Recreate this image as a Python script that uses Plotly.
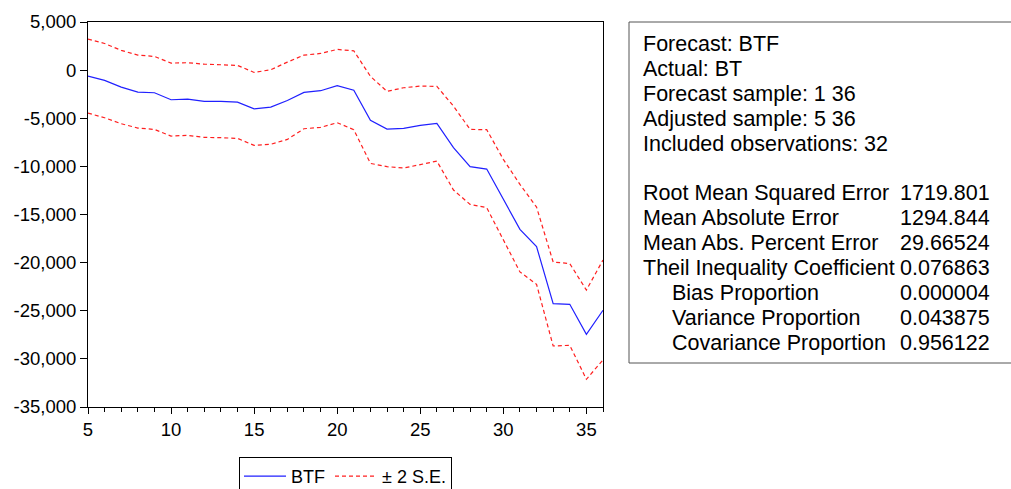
import plotly.graph_objects as go

# ---- data ----
periods = list(range(5, 37))
btf = [-620, -1070, -1760, -2280, -2350, -3080, -3010, -3250, -3250, -3320,
       -4030, -3840, -3150, -2320, -2140, -1620, -2080, -5220, -6120, -6050,
       -5740, -5530, -8060, -10030, -10280, -13430, -16540, -18330, -24260,
       -24330, -27450, -24950]
upper = [3220, 2770, 2050, 1560, 1420, 730, 770, 620, 560, 490,
         -240, 40, 830, 1560, 1730, 2150, 2010, -650, -2210, -1830,
         -1660, -1690, -3740, -6160, -6190, -9270, -11870, -14230, -19940,
         -20100, -22850, -19730]
lower = [-4460, -4950, -5570, -6020, -6160, -6850, -6780, -6990, -7020, -7090,
         -7820, -7710, -7200, -6090, -5950, -5460, -6190, -9690, -10030, -10170,
         -9820, -9450, -12460, -13950, -14290, -17650, -20970, -22250, -28660,
         -28590, -32120, -30110]

y_tickvals = [5000, 0, -5000, -10000, -15000, -20000, -25000, -30000, -35000]
y_ticktext = ["5,000", "0", "-5,000", "-10,000", "-15,000", "-20,000",
              "-25,000", "-30,000", "-35,000"]
x_tickvals = [5, 10, 15, 20, 25, 30, 35]

stat_labels = ["Forecast: BTF", "Actual: BT", "Forecast sample: 1 36",
               "Adjusted sample: 5 36", "Included observations: 32"]
metric_labels = ["Root Mean Squared Error", "Mean Absolute Error",
                 "Mean Abs. Percent Error", "Theil Inequality Coefficient",
                 "Bias Proportion", "Variance Proportion", "Covariance Proportion"]
metric_values = ["1719.801", "1294.844", "29.66524", "0.076863",
                 "0.000004", "0.043875", "0.956122"]
metric_indent = [False, False, False, False, True, True, True]

# ---- layout geometry (pixels) ----
W, H = 1011, 489
L, R, T, B = 88, 603, 22, 407
pw, ph = R - L, B - T


def px_x(x):
    return (x - L) / pw


def px_y(y):
    return (B - y) / ph


FONT = "Liberation Sans, Arial, sans-serif"
BOX_FS = 21.5

fig = go.Figure()
fig.add_trace(go.Scatter(x=periods, y=btf, mode="lines", name="BTF",
                         line=dict(color="#2020ff", width=1.2)))
fig.add_trace(go.Scatter(x=periods, y=upper, mode="lines", name="± 2 S.E.",
                         line=dict(color="#ff2020", width=1.2, dash="4px,3px"),
                         legendgroup="se"))
fig.add_trace(go.Scatter(x=periods, y=lower, mode="lines", name="± 2 S.E.",
                         line=dict(color="#ff2020", width=1.2, dash="4px,3px"),
                         legendgroup="se", showlegend=False))

annotations = []
y0 = 44.0
step = 25.1
for i, t in enumerate(stat_labels):
    annotations.append(dict(text=t, x=px_x(641), y=px_y(y0 + i * step),
                            xref="paper", yref="paper", xanchor="left",
                            yanchor="middle", showarrow=False,
                            font=dict(family=FONT, size=BOX_FS, color="black")))
y1 = 192.5
for i, (t, v, ind) in enumerate(zip(metric_labels, metric_values, metric_indent)):
    annotations.append(dict(text=t, x=px_x(670 if ind else 641),
                            y=px_y(y1 + i * step),
                            xref="paper", yref="paper", xanchor="left",
                            yanchor="middle", showarrow=False,
                            font=dict(family=FONT, size=BOX_FS, color="black")))
    annotations.append(dict(text=v, x=px_x(898), y=px_y(y1 + i * step),
                            xref="paper", yref="paper", xanchor="left",
                            yanchor="middle", showarrow=False,
                            font=dict(family=FONT, size=BOX_FS, color="black")))

shapes = [
    dict(type="rect", xref="paper", yref="paper",
         x0=px_x(629), x1=px_x(1030), y0=px_y(363), y1=px_y(22),
         line=dict(color="#555555", width=1), fillcolor="rgba(0,0,0,0)"),
]

fig.update_layout(
    width=W, height=H,
    margin=dict(l=L, r=W - R, t=T, b=H - B, autoexpand=False),
    paper_bgcolor="white", plot_bgcolor="white",
    font=dict(family=FONT, size=18, color="black"),
    showlegend=True,
    legend=dict(orientation="h", x=px_x(239), y=px_y(457),
                xanchor="left", yanchor="top",
                bordercolor="black", borderwidth=1,
                font=dict(family=FONT, size=18, color="black"),
                itemwidth=42, tracegroupgap=0),
    xaxis=dict(range=[5, 36], tickvals=x_tickvals, ticks="outside",
               ticklen=6, tickcolor="black", showline=True, linecolor="black",
               linewidth=1, mirror=True, showgrid=False, zeroline=False,
               automargin=False,
               minor=dict(dtick=1, ticks="outside", ticklen=4,
                          tickcolor="black", showgrid=False),
               tickfont=dict(size=18.5)),
    yaxis=dict(range=[-35000, 5000], tickvals=y_tickvals, ticktext=y_ticktext,
               ticks="outside", ticklen=7, tickcolor="black", showline=True,
               linecolor="black", linewidth=1, mirror=True, showgrid=False,
               zeroline=False, automargin=False, tickfont=dict(size=18.5)),
    annotations=annotations,
    shapes=shapes,
)

fig.write_html(
    "out.html",
    config={"displayModeBar": False},
    post_script="document.body.style.margin='0';document.body.style.overflow='hidden';",
)
